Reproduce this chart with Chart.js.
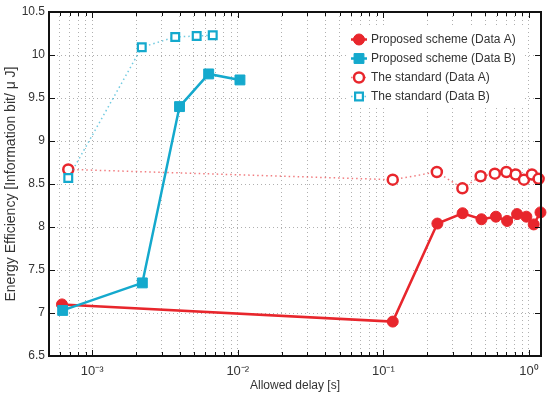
<!DOCTYPE html>
<html lang="en">
<head>
    <meta charset="UTF-8">
    <title>Energy Efficiency vs Allowed Delay</title>
    <script src="https://cdn.jsdelivr.net/npm/chart.js"></script>
    <style>
        body {
            margin: 0;
            padding: 0;
            background: #fff;
        }

        .chart-box {
            position: relative;
            width: 549px;
            height: 397px;
        }
    </style>
</head>
<body>
    <div class="chart-box">
        <canvas id="effChart"></canvas>
    </div>

    <script>
        // values
        const xPropA = [6.2e-4, 0.116, 0.235, 0.35, 0.472, 0.593, 0.708, 0.829, 0.96, 1.078, 1.2];
        const yPropA = [7.10, 6.90, 8.04, 8.16, 8.09, 8.12, 8.07, 8.15, 8.12, 8.03, 8.17];

        const xPropB = [6.27e-4, 2.21e-3, 3.98e-3, 6.31e-3, 1.035e-2];
        const yPropB = [7.03, 7.35, 9.40, 9.78, 9.71];

        const xStdA = [6.85e-4, 0.116, 0.233, 0.349, 0.466, 0.583, 0.70, 0.811, 0.924, 1.048, 1.165];
        const yStdA = [8.67, 8.55, 8.64, 8.45, 8.59, 8.62, 8.64, 8.61, 8.55, 8.61, 8.56];

        const xStdB = [6.85e-4, 2.19e-3, 3.72e-3, 5.22e-3, 6.73e-3];
        const yStdB = [8.57, 10.09, 10.21, 10.22, 10.23];

        const seriesNames = ['Proposed scheme (Data A)', 'Proposed scheme (Data B)', 'The standard (Data A)', 'The standard (Data B)'];

        // x tick labels (decades)
        const xDecades = [1e-3, 1e-2, 1e-1, 1];
        const xDecadeLabels = ['10\u207B\u00B3', '10\u207B\u00B2', '10\u207B\u00B9', '10\u2070'];

        const RED = '#e8262c';
        const CYAN = '#14a9cd';
        const FONT = '"Liberation Sans", Arial, sans-serif';

        const toPoints = (xs, ys) => xs.map((x, i) => ({ x: x, y: ys[i] }));

        const datasets = [
            {
                label: seriesNames[0],
                data: toPoints(xPropA, yPropA),
                borderColor: RED,
                backgroundColor: RED,
                borderWidth: 2.5,
                pointStyle: 'circle',
                pointRadius: 5.5,
                pointBackgroundColor: RED,
                pointBorderColor: RED,
                pointBorderWidth: 1,
                order: 3
            },
            {
                label: seriesNames[1],
                data: toPoints(xPropB, yPropB),
                borderColor: CYAN,
                backgroundColor: CYAN,
                borderWidth: 2.5,
                pointStyle: 'rect',
                pointRadius: 7,
                pointBackgroundColor: CYAN,
                pointBorderColor: CYAN,
                pointBorderWidth: 1,
                order: 1
            },
            {
                label: seriesNames[2],
                data: toPoints(xStdA, yStdA),
                borderColor: 'rgba(232, 38, 44, 0.6)',
                borderWidth: 1.5,
                borderDash: [1.5, 3],
                pointStyle: 'circle',
                pointRadius: 5,
                pointBackgroundColor: '#fff',
                pointBorderColor: RED,
                pointBorderWidth: 2.5,
                order: 2
            },
            {
                label: seriesNames[3],
                data: toPoints(xStdB, yStdB),
                borderColor: 'rgba(20, 169, 205, 0.6)',
                borderWidth: 1.5,
                borderDash: [1.5, 3],
                pointStyle: 'rect',
                pointRadius: 5.5,
                pointBackgroundColor: '#fff',
                pointBorderColor: CYAN,
                pointBorderWidth: 2.2,
                order: 0
            }
        ];

        // matlab-like box, inward ticks and legend
        const boxPlugin = {
            id: 'boxPlugin',
            afterDraw(chart) {
                const ctx = chart.ctx;
                const a = chart.chartArea;
                const xs = chart.scales.x;
                const ys = chart.scales.y;
                ctx.save();

                // inward ticks
                ctx.strokeStyle = '#111';
                ctx.lineWidth = 1;
                ctx.beginPath();
                xs.ticks.forEach(t => {
                    const px = Math.round(xs.getPixelForValue(t.value)) + 0.5;
                    const len = t.major ? 6 : 4;
                    ctx.moveTo(px, a.bottom);
                    ctx.lineTo(px, a.bottom - len);
                    ctx.moveTo(px, a.top);
                    ctx.lineTo(px, a.top + len);
                });
                ys.ticks.forEach(t => {
                    const py = Math.round(ys.getPixelForValue(t.value)) + 0.5;
                    ctx.moveTo(a.left, py);
                    ctx.lineTo(a.left + 6, py);
                    ctx.moveTo(a.right, py);
                    ctx.lineTo(a.right - 6, py);
                });
                ctx.stroke();

                // frame
                ctx.strokeStyle = '#111';
                ctx.lineWidth = 2;
                ctx.strokeRect(a.left, a.top, a.right - a.left, a.bottom - a.top);

                // legend
                const lx = 348, ly = 27, lw = 175, lh = 78;
                ctx.fillStyle = '#fff';
                ctx.fillRect(lx, ly, lw, lh);
                const rowY = [39.5, 58.5, 77.5, 96.5];
                ctx.font = '12px ' + FONT;
                ctx.textBaseline = 'middle';
                datasets.forEach((ds, i) => {
                    const y = rowY[i];
                    ctx.save();
                    ctx.strokeStyle = ds.borderColor;
                    ctx.lineWidth = ds.borderWidth;
                    ctx.setLineDash(ds.borderDash || []);
                    ctx.beginPath();
                    ctx.moveTo(351, y);
                    ctx.lineTo(367, y);
                    ctx.stroke();
                    ctx.restore();
                    ctx.save();
                    ctx.fillStyle = ds.pointBackgroundColor;
                    ctx.strokeStyle = ds.pointBorderColor;
                    ctx.lineWidth = ds.pointBorderWidth;
                    ctx.beginPath();
                    if (ds.pointStyle === 'circle') {
                        ctx.arc(359, y, ds.pointRadius, 0, Math.PI * 2);
                    } else {
                        const s = ds.pointRadius * Math.SQRT1_2;
                        ctx.rect(359 - s, y - s, 2 * s, 2 * s);
                    }
                    ctx.fill();
                    ctx.stroke();
                    ctx.restore();
                    ctx.fillStyle = '#333';
                    ctx.fillText(ds.label, 371, y + 0.5);
                });
                ctx.restore();
            }
        };

        const ctx = document.getElementById('effChart').getContext('2d');
        new Chart(ctx, {
            type: 'line',
            data: { datasets: datasets },
            options: {
                responsive: true,
                maintainAspectRatio: false,
                animation: false,
                layout: { padding: { top: 12, right: 6, left: 0, bottom: 0 } },
                datasets: { line: { clip: false, tension: 0 } },
                plugins: {
                    legend: { display: false },
                    tooltip: { enabled: false }
                },
                scales: {
                    x: {
                        type: 'logarithmic',
                        min: 5.05e-4,
                        max: 1.21,
                        afterBuildTicks: scale => {
                            const ticks = [];
                            for (let e = -4; e <= 0; e++) {
                                for (let m = 1; m <= 9; m++) {
                                    const v = m * Math.pow(10, e);
                                    if (v >= scale.min && v <= scale.max) {
                                        ticks.push({ value: v, major: m === 1 });
                                    }
                                }
                            }
                            scale.ticks = ticks;
                        },
                        afterFit: scale => { scale.height = 41; },
                        grid: {
                            color: '#b0b0b0',
                            lineWidth: 1,
                            drawTicks: false
                        },
                        border: { display: false, dash: [1, 3] },
                        ticks: {
                            autoSkip: false,
                            maxRotation: 0,
                            padding: 8,
                            color: '#333',
                            font: { family: FONT, size: 13 },
                            callback: value => {
                                const i = xDecades.findIndex(d => Math.abs(d - value) / d < 1e-6);
                                return i >= 0 ? xDecadeLabels[i] : '';
                            }
                        },
                        title: {
                            display: true,
                            text: 'Allowed delay [s]',
                            color: '#333',
                            font: { family: FONT, size: 12 },
                            padding: { top: 0, bottom: 4 }
                        }
                    },
                    y: {
                        min: 6.5,
                        max: 10.5,
                        afterFit: scale => { scale.width = 49; },
                        grid: {
                            color: '#b0b0b0',
                            lineWidth: 1,
                            drawTicks: false
                        },
                        border: { display: false, dash: [1, 3] },
                        ticks: {
                            stepSize: 0.5,
                            padding: 4,
                            color: '#333',
                            font: { family: FONT, size: 12 },
                            callback: value => String(value)
                        },
                        title: {
                            display: true,
                            text: 'Energy Efficiency [Information bit/ \u03BC J]',
                            color: '#333',
                            font: { family: FONT, size: 14 },
                            padding: { top: 3, bottom: 0 }
                        }
                    }
                }
            },
            plugins: [boxPlugin]
        });
    </script>
</body>
</html>
